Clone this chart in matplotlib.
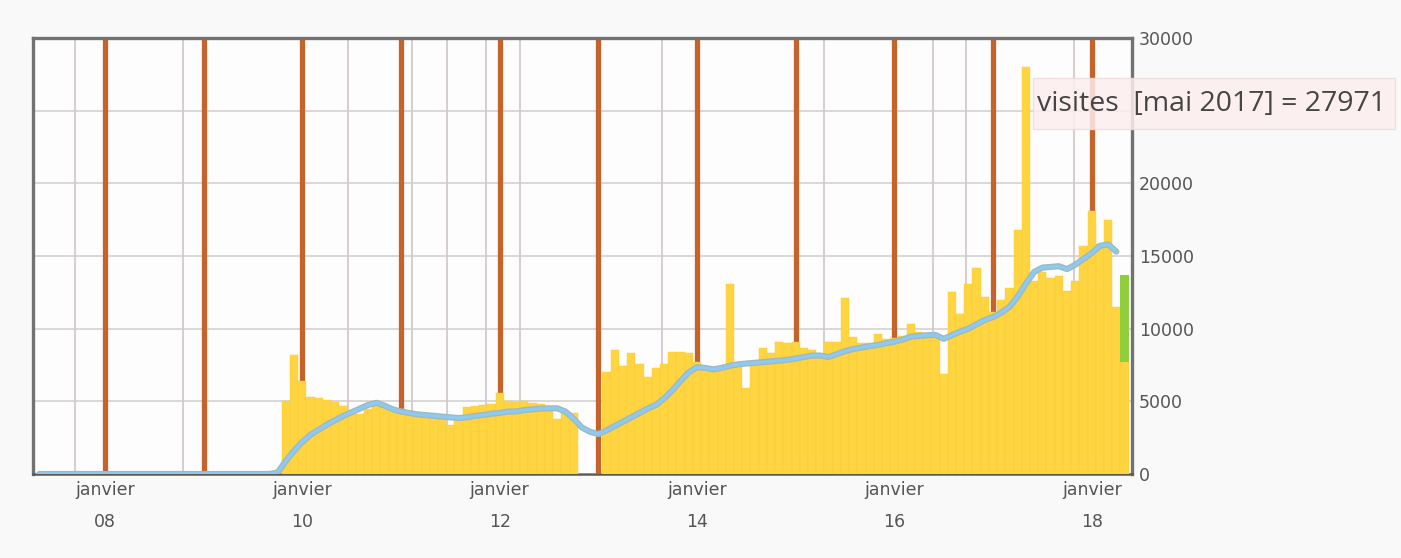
import matplotlib
matplotlib.use("Agg")
import matplotlib.pyplot as plt
from matplotlib.patches import Rectangle
import numpy as np

# month index: 0 = janvier 2007
bar_start = 34          # novembre 2009
visites = [5000, 8200, 6400, 5300, 5250, 5100, 4950, 4700, 4200, 4100,
           4500, 4900, 4600, 4300, 4500, 4200, 4100, 4000, 3950, 3800,
           3400, 3900, 4600, 4700, 4750, 4800, 5600, 5000, 4950, 5000,
           4900, 4850, 4500, 3800, 4300, 4200, 0, 0, 0, 7000,
           8500, 7400, 8300, 7600, 6700, 7300, 7600, 8400, 8400, 8300,
           7700, 7200, 7200, 7300, 13100, 7600, 5900, 7600, 8650, 8300,
           9100, 9000, 9100, 8650, 8550, 8200, 9100, 9100, 12100, 9450,
           9000, 9000, 9600, 9300, 9350, 9500, 10300, 9800, 9500, 9400,
           6900, 12500, 11000, 13100, 14150, 12200, 11150, 12000, 12800, 16800,
           27971, 13300, 13900, 13500, 13600, 12600, 13300, 15700, 18100, 15800,
           17500, 11500, 7700]
projection = 6000       # green part on the current (incomplete) month

line_start = 4
moyenne = [0] * 29 + [
    100, 900, 1600, 2200, 2700, 3050, 3400, 3700, 4000, 4250,
    4500, 4750, 4900, 4700, 4450, 4300, 4200, 4100, 4050, 4000,
    3950, 3900, 3850, 3900, 4000, 4060, 4150, 4200, 4300, 4300,
    4400, 4450, 4500, 4520, 4520, 4300, 3800, 3200, 2900, 2750,
    3000, 3300, 3600, 3900, 4200, 4500, 4750, 5200, 5750, 6400,
    7000, 7350, 7300, 7200, 7300, 7450, 7550, 7600, 7650, 7700,
    7750, 7800, 7850, 7950, 8050, 8150, 8150, 8050, 8250, 8450,
    8600, 8700, 8800, 8880, 9000, 9100, 9250, 9450, 9500, 9550,
    9570, 9300, 9550, 9800, 10000, 10300, 10600, 10800, 11100, 11500,
    12200, 13100, 13900, 14200, 14250, 14300, 14100, 14400, 14800, 15200,
    15700, 15800, 15300]

janvier_months = [12, 24, 36, 48, 60, 72, 84, 96, 108, 120, 132]
label_months = [12, 36, 60, 84, 108, 132]
label_years = ["08", "10", "12", "14", "16", "18"]
event_months = [8.35, 21.5, 41.5, 49.3, 53.6, 58.4, 62.5, 79.7, 99.4, 112.7, 116.7, 129.9]
yticks = [0, 5000, 10000, 15000, 20000, 25000, 30000]
ytick_labels = ["0", "5000", "10000", "15000", "20000", "", "30000"]  # 25000 is under the tooltip
tooltip = "visites  [mai 2017] = 27971"

fig = plt.figure(figsize=(14.01, 5.58), dpi=100, facecolor="#f9f9f9")
ax = fig.add_axes([33/1401, 84/558, 1099/1401, 436/558])
ax.set_facecolor("#fdfdfd")

xb = np.arange(bar_start, bar_start + len(visites))
xl = np.arange(line_start, line_start + len(moyenne))

for yv in yticks[1:-1]:
    ax.axhline(yv, color="#d6d6d6", lw=1.3, zorder=1)
for m in event_months:
    ax.axvline(m, color="#d4caca", lw=1.3, zorder=1)
for m in janvier_months:
    ax.axvline(m, color="#c6632a", lw=3.8, zorder=2)

ax.bar(xb, visites, width=1.0, color="#fed440", edgecolor="#f5cb3a", lw=0.3, zorder=3)
ax.bar(xb[-1], projection, bottom=visites[-1], width=1.0, color="#8fcf3c", zorder=3)

ax.plot(xl, moyenne, color="#9fb8bf", lw=4.4, solid_capstyle="round", zorder=4)
ax.plot(xl, moyenne, color="#8ec9f0", lw=2.5, solid_capstyle="round", zorder=5)

ax.set_xlim(3.25, 136.9)
ax.set_ylim(0, 30000)

ax.yaxis.tick_right()
ax.set_yticks(yticks)
ax.set_yticklabels(ytick_labels)
ax.set_xticks(label_months)
ax.set_xticklabels(["janvier\n" + y for y in label_years], linespacing=2.0)
ax.tick_params(axis="both", length=0, colors="#555555", labelsize=12.5)
ax.tick_params(axis="y", pad=5)
ax.tick_params(axis="x", pad=5)

for s in ["left", "top", "right"]:
    ax.spines[s].set_color("#727272")
    ax.spines[s].set_linewidth(2.4)
ax.spines["bottom"].set_color("#5e5a52")
ax.spines["bottom"].set_linewidth(1.8)

# tooltip box
fig.patches.append(Rectangle((1033/1401, 1 - 129/558), 362/1401, 51/558,
                             transform=fig.transFigure, facecolor="#fdeeee",
                             edgecolor="#efdcdc", lw=1, alpha=0.85, zorder=10))
fig.text(1037/1401, 1 - 104/558, tooltip, ha="left", va="center",
         fontsize=20.5, color="#454545", family=["Open Sans", "DejaVu Sans"], zorder=11)

fig.savefig("out.png", dpi=100, facecolor=fig.get_facecolor())
